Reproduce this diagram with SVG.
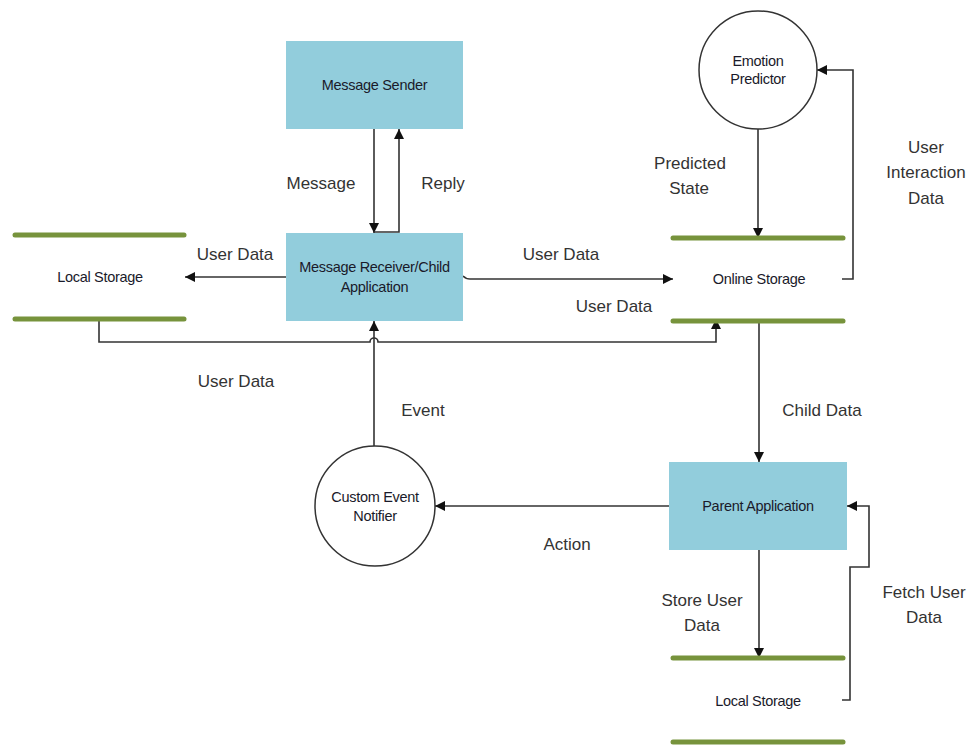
<svg xmlns="http://www.w3.org/2000/svg" width="975" height="745" viewBox="0 0 975 745">
<style>
.box{fill:#92CDDC;}
.store{stroke:#77933C;stroke-width:5;stroke-linecap:round;}
.proc{fill:#fff;stroke:#333;stroke-width:1.5;}
.node{font-family:"Liberation Sans",Arial,sans-serif;font-size:14.5px;fill:#1a1a2a;text-anchor:middle;dominant-baseline:central;letter-spacing:-0.3px;}
.lbl{font-family:"Liberation Sans",Arial,sans-serif;font-size:17px;fill:#333;text-anchor:middle;dominant-baseline:central;}
.c{fill:none;stroke:#333;stroke-width:1.6;}
</style>
<defs>
<marker id="ah" viewBox="0 0 10 10" refX="10" refY="5" markerWidth="10" markerHeight="10" markerUnits="userSpaceOnUse" orient="auto">
<path d="M0,0 L10,5 L0,10 z" fill="#111"/>
</marker>
</defs>
<rect width="975" height="745" fill="#fff"/>

<g id="connectors">
<path class="c" d="M374,129 V233" marker-end="url(#ah)"/>
<path class="c" d="M374,232 H399 V129" marker-end="url(#ah)"/>
<path class="c" d="M286,277 H185" marker-end="url(#ah)"/>
<path class="c" d="M463,276 Q466,279 470,279 H673" marker-end="url(#ah)"/>
<path class="c" d="M99,319 V342 H370 A4,4 0 0 1 378,342 H716 V319" marker-end="url(#ah)"/>
<path class="c" d="M374,446 V321" marker-end="url(#ah)"/>
<path class="c" d="M758,129 V238" marker-end="url(#ah)"/>
<path class="c" d="M842,279 H853 V70 H817" marker-end="url(#ah)"/>
<path class="c" d="M759,321 V462" marker-end="url(#ah)"/>
<path class="c" d="M669,506 H435" marker-end="url(#ah)"/>
<path class="c" d="M759,550 V658" marker-end="url(#ah)"/>
<path class="c" d="M842,700 H850 V567 H869 V506 H847" marker-end="url(#ah)"/>
<text class="lbl" x="321" y="183">Message</text>
<text class="lbl" x="443" y="183">Reply</text>
<text class="lbl" x="235" y="254">User Data</text>
<text class="lbl" x="561" y="254">User Data</text>
<text class="lbl" x="614" y="306">User Data</text>
<text class="lbl" x="236" y="381">User Data</text>
<text class="lbl" x="423" y="410">Event</text>
<text class="lbl" x="690" y="163">Predicted</text>
<text class="lbl" x="689" y="188">State</text>
<text class="lbl" x="926" y="147">User</text>
<text class="lbl" x="926" y="172">Interaction</text>
<text class="lbl" x="926" y="198">Data</text>
<text class="lbl" x="822" y="410">Child Data</text>
<text class="lbl" x="567" y="544">Action</text>
<text class="lbl" x="702" y="600">Store User</text>
<text class="lbl" x="702" y="625">Data</text>
<text class="lbl" x="924" y="592">Fetch User</text>
<text class="lbl" x="924" y="617">Data</text>
</g>

<g id="message-sender">
<rect class="box" x="286" y="41" width="177" height="88"/>
<text class="node" x="374.5" y="85">Message Sender</text>
</g>

<g id="message-receiver">
<rect class="box" x="286" y="233" width="177" height="88"/>
<text class="node" x="374.5" y="267">Message Receiver/Child</text>
<text class="node" x="374.5" y="287">Application</text>
</g>

<g id="local-storage-left">
<line class="store" x1="15" y1="235" x2="184" y2="235"/>
<line class="store" x1="15" y1="319" x2="184" y2="319"/>
<text class="node" x="100" y="277">Local Storage</text>
</g>

<g id="emotion-predictor">
<circle class="proc" cx="758" cy="70" r="59"/>
<text class="node" x="758" y="61">Emotion</text>
<text class="node" x="758" y="79">Predictor</text>
</g>

<g id="online-storage">
<line class="store" x1="673" y1="238" x2="843" y2="238"/>
<line class="store" x1="673" y1="321" x2="843" y2="321"/>
<text class="node" x="759" y="279">Online Storage</text>
</g>

<g id="custom-event-notifier">
<circle class="proc" cx="375" cy="506" r="60"/>
<text class="node" x="375" y="497">Custom Event</text>
<text class="node" x="375" y="516">Notifier</text>
</g>

<g id="parent-application">
<rect class="box" x="669" y="462" width="178" height="88"/>
<text class="node" x="758" y="506">Parent Application</text>
</g>

<g id="local-storage-bottom">
<line class="store" x1="673" y1="658" x2="843" y2="658"/>
<line class="store" x1="673" y1="742" x2="843" y2="742"/>
<text class="node" x="758" y="701">Local Storage</text>
</g>
</svg>
